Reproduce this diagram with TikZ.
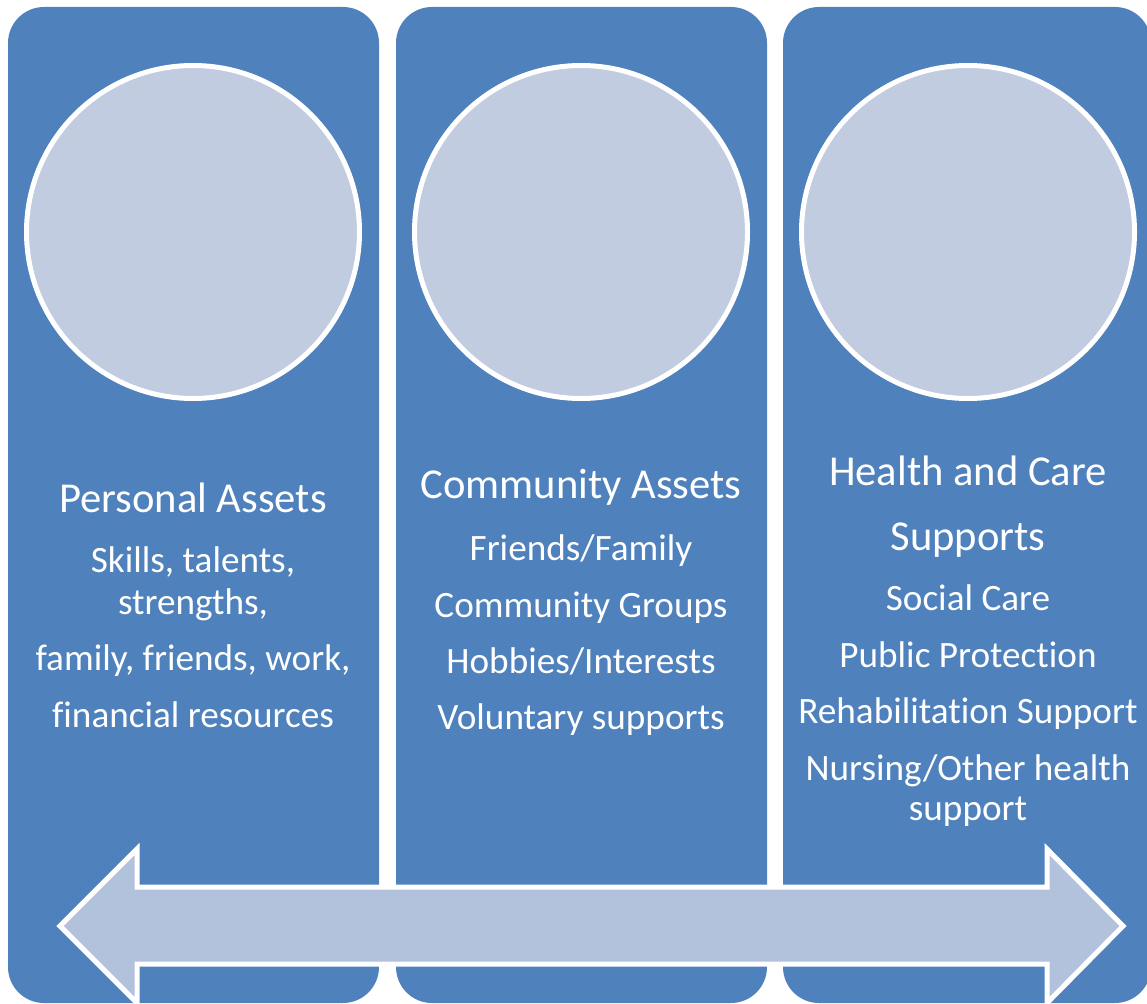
\documentclass[tikz,border=0pt]{standalone}
\usepackage{fontspec}
\setmainfont{Carlito}[Ligatures=NoCommon]
\definecolor{colblue}{HTML}{4F81BD}
\definecolor{circfill}{HTML}{C1CCE0}
\definecolor{arrowfill}{HTML}{B2C1DC}
\tikzset{
  column/.style={fill=colblue, draw=none, rounded corners=36pt},
  disc/.style={fill=circfill, draw=white, line width=5pt},
  bigarrow/.style={fill=arrowfill, draw=white, line width=5pt, line join=miter},
  title/.style={text=white, anchor=base, inner sep=0pt, font=\fontsize{42.6}{48}\selectfont},
  item/.style={text=white, anchor=base, inner sep=0pt, font=\fontsize{37.2}{42}\selectfont}
}
\begin{document}
\begin{tikzpicture}[x=1pt,y=-1pt]
\useasboundingbox (0,0) rectangle (1147,1003);
\begin{scope}
\clip (0,0) rectangle (1147,1003);
\fill[column] (8,7) rectangle (379,1003);
\fill[column] (396,7) rectangle (767,1003);
\fill[column] (783,7) rectangle (1151,1003);
\end{scope}
\node[disc, circle, minimum size=333pt, inner sep=0pt] (c1) at (193,232) {};
\node[disc, circle, minimum size=333pt, inner sep=0pt] (c2) at (581,232) {};
\node[disc, circle, minimum size=333pt, inner sep=0pt] (c3) at (968,232) {};
% arrow
\draw[bigarrow] (60,926) -- (137,849) -- (137,887) -- (1047,887) -- (1047,849) -- (1123,926)
  -- (1047,1003) -- (1047,964) -- (137,964) -- (137,1003) -- cycle;
% column 1
\node[title] (t1) at (193,512) {Personal Assets};
\node[item] (a1) at (193,572) {Skills, talents,};
\node[item] (a2) at (193,614) {strengths,};
\node[item] (a3) at (193,670) {family, friends, work,};
\node[item] (a4) at (193,727) {financial resources};
% column 2
\node[title] (t2) at (581,498) {Community Assets};
\node[item] (b1) at (581,560) {Friends/Family};
\node[item] (b2) at (581,617) {Community Groups};
\node[item] (b3) at (581,673) {Hobbies/Interests};
\node[item] (b4) at (581,729) {Voluntary supports};
% column 3
\node[title] (t3a) at (968,485) {Health and Care};
\node[title] (t3b) at (968,550) {Supports};
\node[item] (d1) at (968,610) {Social Care};
\node[item] (d2) at (968,667) {Public Protection};
\node[item] (d3) at (968,723) {Rehabilitation Support};
\node[item] (d4) at (968,780) {Nursing/Other health};
\node[item] (d5) at (968,820) {support};
\end{tikzpicture}
\end{document}
